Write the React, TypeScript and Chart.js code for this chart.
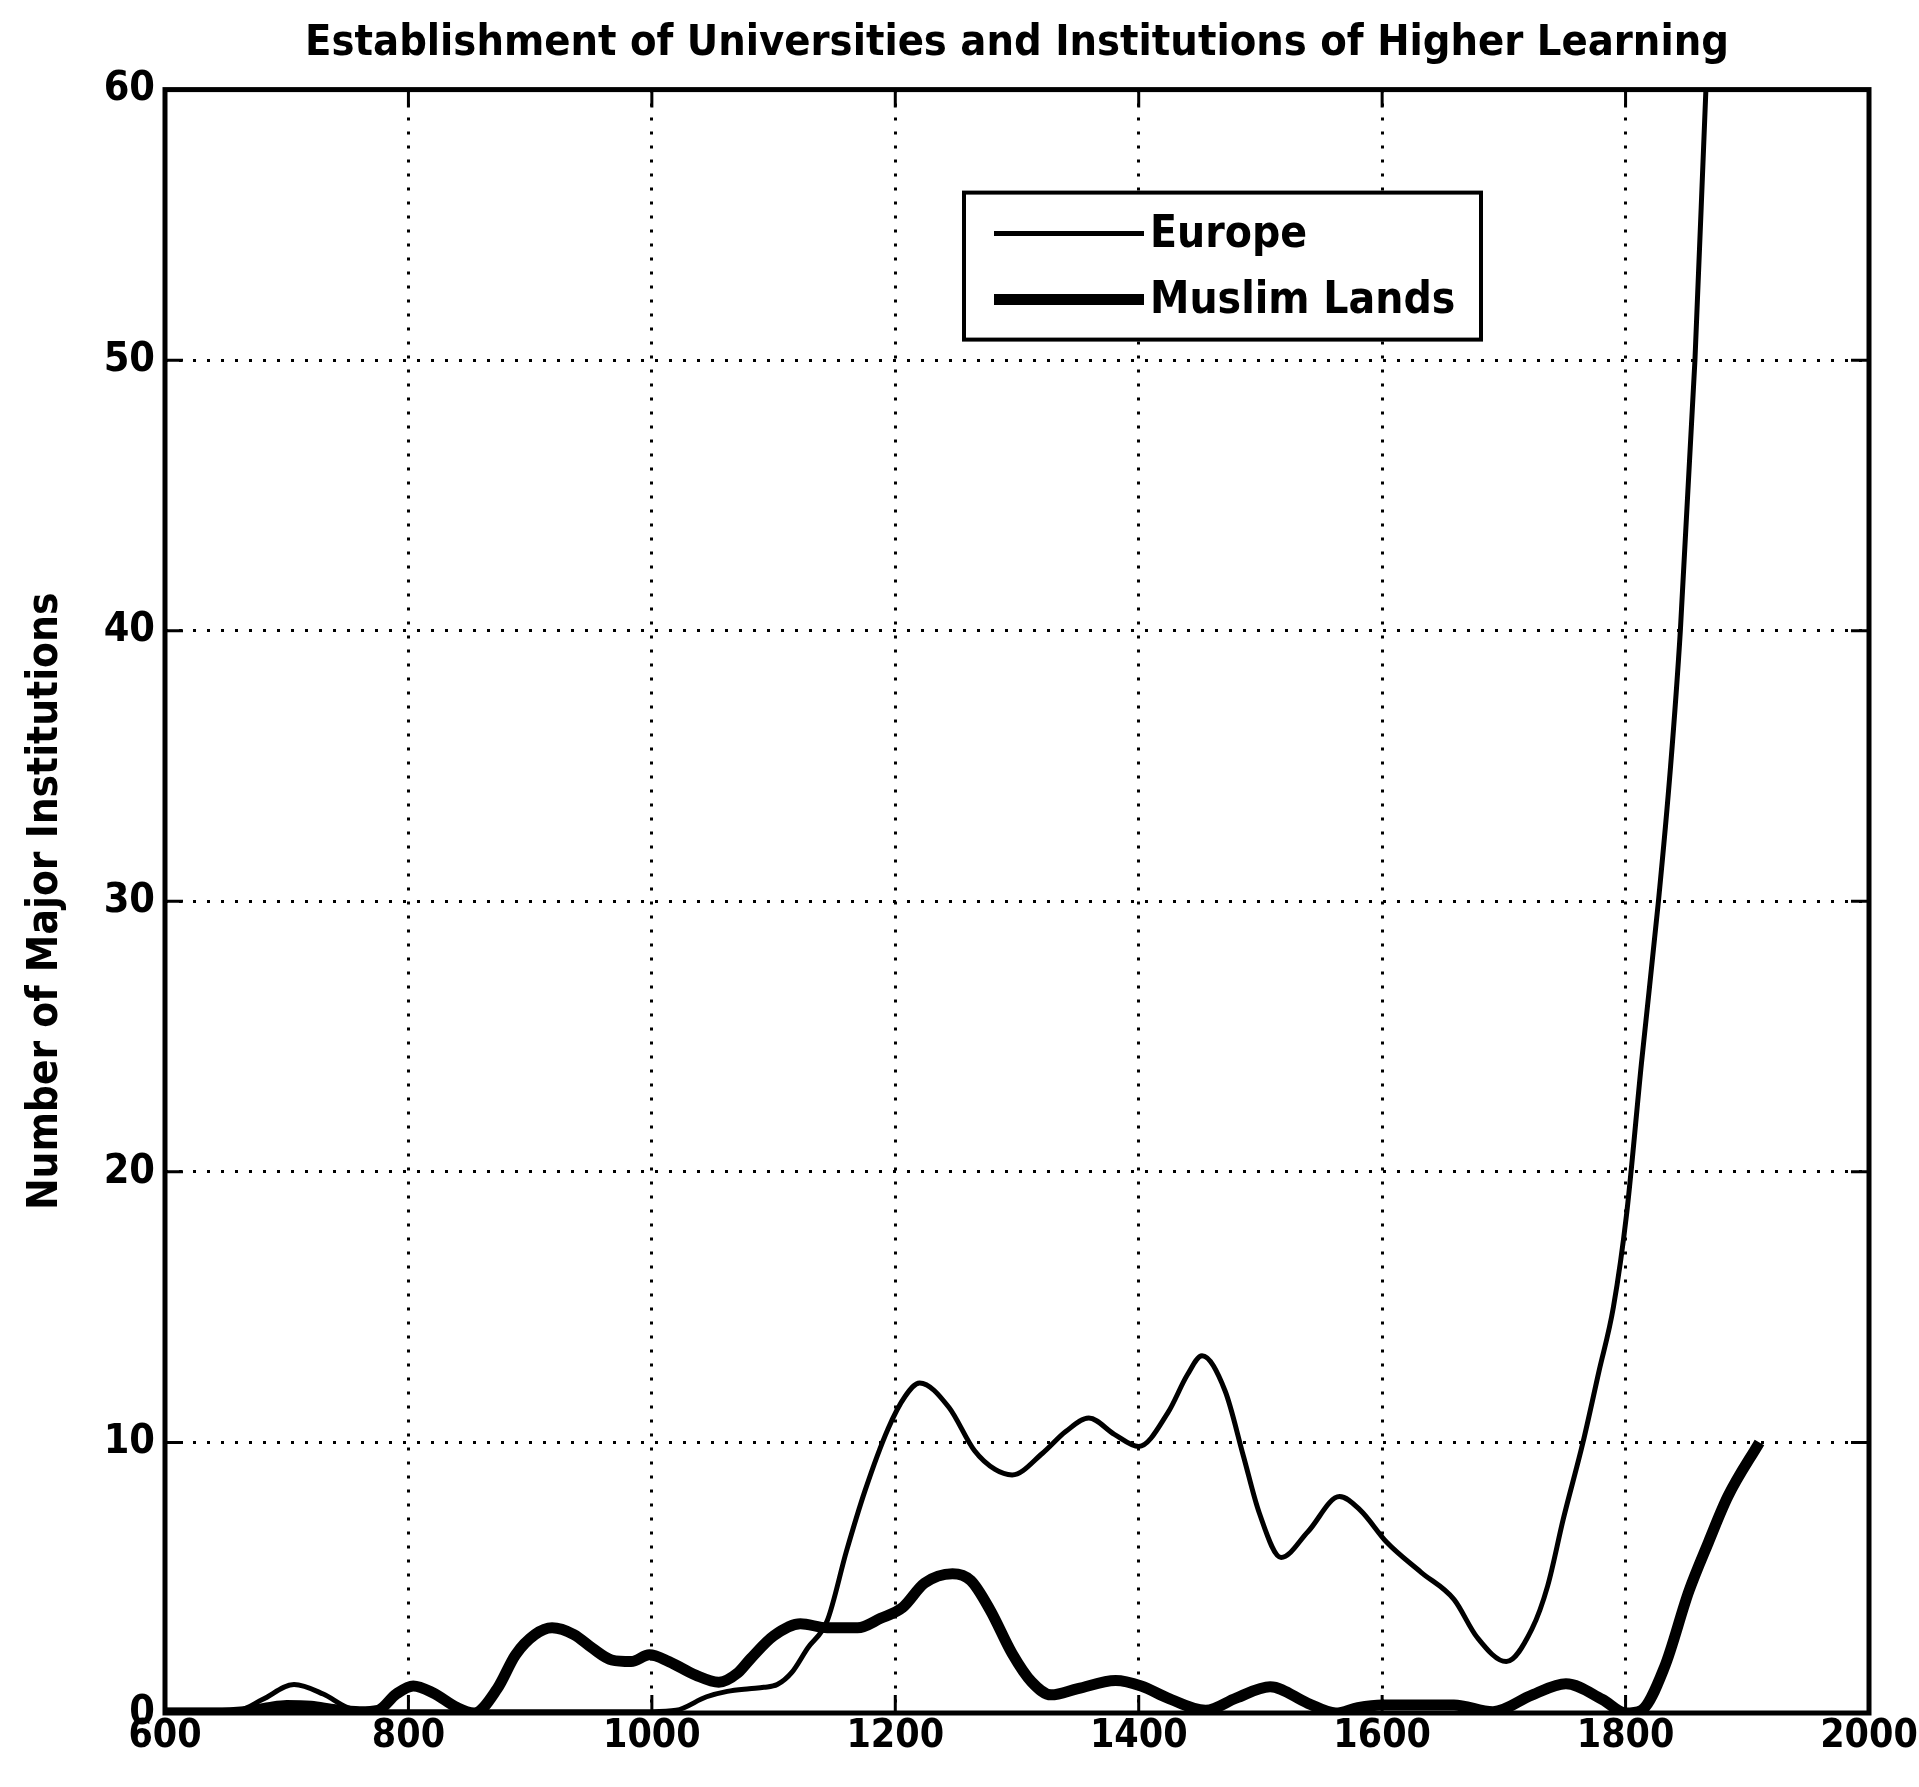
import React, { useEffect, useRef } from "react";
import { Chart, registerables } from "chart.js";

Chart.register(...registerables);

const titleText = "Establishment of Universities and Institutions of Higher Learning";
const yAxisTitle = "Number of Major Institutions";
const seriesLabels = ["Europe", "Muslim Lands"];

const xTicks = [600, 800, 1000, 1200, 1400, 1600, 1800, 2000];
const yTicks = [0, 10, 20, 30, 40, 50, 60];

const europeYears = [
  600, 630, 660, 680, 706, 730, 750, 770, 800, 850, 900, 950, 1000, 1020, 1045, 1062, 1080, 1092,
  1103, 1115, 1128, 1144, 1160, 1175, 1194, 1208, 1220, 1244, 1265, 1282, 1296, 1321, 1340, 1359,
  1380, 1400, 1424, 1440, 1452, 1471, 1486, 1499, 1517, 1539, 1565, 1582, 1604, 1632, 1659, 1678,
  1702, 1723, 1736, 1749, 1765, 1778, 1790, 1801, 1813, 1827, 1837, 1845, 1857, 1866, 1872,
];
const europeValues = [
  0.1, 0.1, 0.1, 0.5, 1.05, 0.7, 0.2, 0.05, 0.05, 0.05, 0.05, 0.05, 0.05, 0.1, 0.6, 0.8, 0.9, 0.95,
  1.05, 1.5, 2.4, 3.4, 6.0, 8.2, 10.5, 11.7, 12.2, 11.3, 9.7, 9.0, 8.8, 9.6, 10.4, 10.9,
  10.3, 9.85, 11.1, 12.5, 13.2, 11.9, 9.5, 7.4, 5.75, 6.7, 8.0, 7.5, 6.3, 5.2, 4.2, 2.8,
  1.9, 3.1, 4.7, 7.2, 10.0, 12.6, 15.0, 18.5, 24, 30, 35, 40, 50, 60, 66,
];

const muslimYears = [
  600, 640, 665, 685, 700, 720, 740, 760, 775, 790, 804, 820, 840, 854, 873, 888, 904, 918, 936,
  951, 967, 983, 998, 1014, 1036, 1055, 1071, 1081, 1100, 1122, 1144, 1169, 1188, 1206, 1224,
  1247, 1262, 1278, 1296, 1312, 1328, 1350, 1381, 1402, 1424, 1455, 1480, 1508, 1539, 1562,
  1580, 1600, 1659, 1691, 1723, 1751, 1781, 1800, 1813, 1832, 1852, 1868, 1884, 1910,
];
const muslimValues = [
  0, 0, 0.05, 0.2, 0.28, 0.25, 0.12, 0.05, 0.1, 0.7, 1.0, 0.75, 0.2, 0, 0.9, 2.15, 2.9, 3.15, 2.9,
  2.4, 1.96, 1.9, 2.15, 1.9, 1.4, 1.14, 1.5, 2.0, 2.85, 3.3, 3.15, 3.15, 3.5, 3.9, 4.8,
  5.15, 4.9, 3.8, 2.2, 1.15, 0.67, 0.9, 1.2, 1.0, 0.55, 0.1, 0.55, 0.97, 0.36, 0,
  0.2, 0.3, 0.3, 0.05, 0.66, 1.08, 0.5, 0, 0.1, 1.7, 4.5, 6.3, 8.0, 10.0,
];

const FONT = '"Liberation Sans Narrow", "DejaVu Sans Condensed", "Liberation Sans", Arial, sans-serif';

const toPoints = (xs: number[], ys: number[]) => xs.map((x, i) => ({ x, y: ys[i] }));

const framePlugin = {
  id: "matlabFrame",
  afterDatasetsDraw(chart: any) {
    const { ctx, chartArea: a, scales } = chart;
    ctx.save();
    ctx.strokeStyle = "#000";
    ctx.lineWidth = 3;
    const tl = 18;
    xTicks.forEach((v) => {
      const px = scales.x.getPixelForValue(v);
      ctx.beginPath();
      ctx.moveTo(px, a.bottom);
      ctx.lineTo(px, a.bottom - tl);
      ctx.moveTo(px, a.top);
      ctx.lineTo(px, a.top + tl);
      ctx.stroke();
    });
    yTicks.forEach((v) => {
      const py = scales.y.getPixelForValue(v);
      ctx.beginPath();
      ctx.moveTo(a.left, py);
      ctx.lineTo(a.left + tl, py);
      ctx.moveTo(a.right, py);
      ctx.lineTo(a.right - tl, py);
      ctx.stroke();
    });
    ctx.lineWidth = 5;
    ctx.strokeRect(a.left, a.top, a.right - a.left, a.bottom - a.top);

    // legend
    const lx = 964;
    const ly = a.top + 103;
    const lw = 517;
    const lh = 147;
    ctx.fillStyle = "#fff";
    ctx.fillRect(lx, ly, lw, lh);
    ctx.lineWidth = 4;
    ctx.strokeRect(lx, ly, lw, lh);
    const widths = [5, 11];
    const rows = [ly + 41, ly + 107];
    ctx.font = `bold 44px ${FONT}`;
    ctx.textBaseline = "middle";
    ctx.textAlign = "left";
    ctx.fillStyle = "#000";
    chart.data.datasets.forEach((ds: any, i: number) => {
      ctx.lineWidth = widths[i];
      ctx.beginPath();
      ctx.moveTo(lx + 30, rows[i]);
      ctx.lineTo(lx + 180, rows[i]);
      ctx.stroke();
      ctx.fillText(ds.label, lx + 186, rows[i] + 2);
    });
    ctx.restore();
  },
};

export default function App() {
  const ref = useRef<HTMLCanvasElement | null>(null);
  useEffect(() => {
    document.body.style.margin = "0";
    document.body.style.overflow = "hidden";
    const canvas = ref.current;
    if (!canvas) return;
    const tickFont = { family: FONT, size: 39, weight: "bold" as const };
    const chart = new Chart(canvas, {
      type: "line",
      data: {
        datasets: [
          {
            label: seriesLabels[0],
            data: toPoints(europeYears, europeValues),
            borderColor: "#000",
            borderWidth: 5,
            pointRadius: 0,
            cubicInterpolationMode: "monotone",
            fill: false,
          },
          {
            label: seriesLabels[1],
            data: toPoints(muslimYears, muslimValues),
            borderColor: "#000",
            borderWidth: 11,
            pointRadius: 0,
            cubicInterpolationMode: "monotone",
            fill: false,
          },
        ],
      },
      options: {
        responsive: false,
        animation: false,
        devicePixelRatio: 1,
        layout: { padding: { left: 0, right: 50, top: 0, bottom: 0 } },
        plugins: {
          legend: { display: false },
          tooltip: { enabled: false },
          title: {
            display: true,
            fullSize: false,
            text: titleText,
            color: "#000",
            font: { family: FONT, size: 43, weight: "bold" },
            padding: { top: 18, bottom: 20 },
          },
        },
        scales: {
          x: {
            type: "linear",
            min: 600,
            max: 2000,
            afterBuildTicks: (s: any) => {
              s.ticks = xTicks.map((v) => ({ value: v }));
            },
            ticks: {
              font: tickFont,
              color: "#000",
              padding: 0,
              maxRotation: 0,
              autoSkip: false,
              callback: (v: any) => String(v),
            },
            grid: { color: "#000", lineWidth: 3, drawTicks: false },
            border: { display: false, dash: [3, 11] },
            afterFit: (s: any) => {
              s.height = 74;
            },
          },
          y: {
            min: 0,
            max: 60,
            afterBuildTicks: (s: any) => {
              s.ticks = yTicks.map((v) => ({ value: v }));
            },
            ticks: { font: { ...tickFont, size: 41 }, color: "#000", padding: 10, callback: (v: any) => String(v) },
            grid: { color: "#000", lineWidth: 3, drawTicks: false },
            border: { display: false, dash: [3, 11] },
            title: {
              display: true,
              text: yAxisTitle,
              color: "#000",
              font: { family: FONT, size: 42, weight: "bold" },
              padding: { top: 21, bottom: 0 },
            },
            afterFit: (s: any) => {
              s.width = 165;
            },
          },
        },
      } as any,
      plugins: [framePlugin],
    });
    return () => chart.destroy();
  }, []);
  return (
    <div style={{ width: 1919, height: 1787, background: "#fff" }}>
      <canvas ref={ref} width={1919} height={1787} style={{ display: "block" }} />
    </div>
  );
}
